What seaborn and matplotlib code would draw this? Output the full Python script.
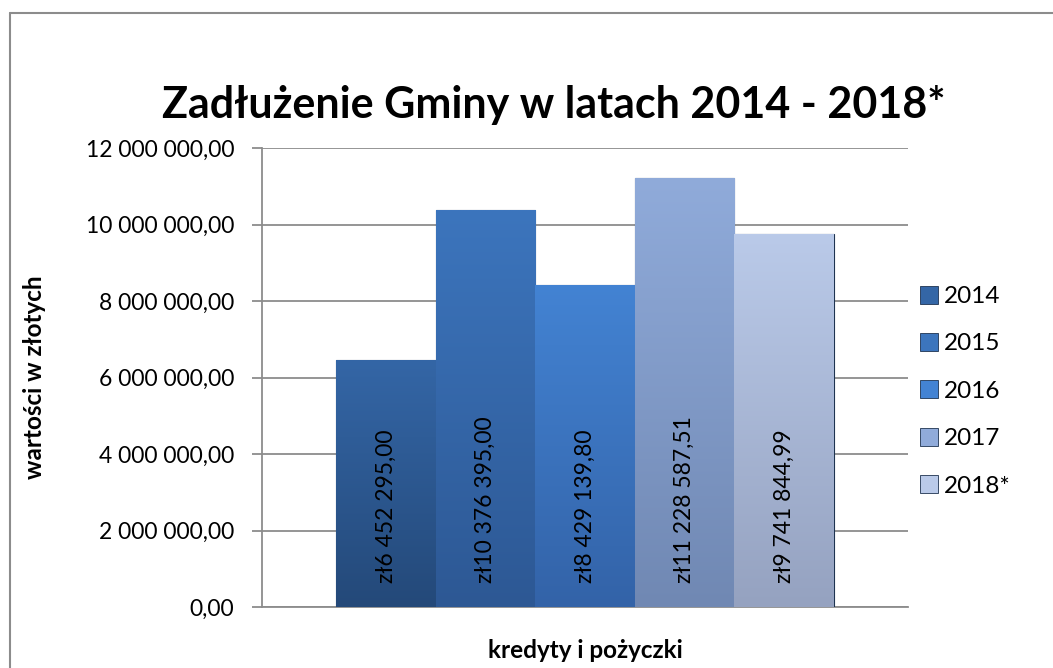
import matplotlib
matplotlib.use("Agg")
import matplotlib.pyplot as plt
import matplotlib.colors as mcolors
from matplotlib.lines import Line2D
from matplotlib.patches import Patch
import numpy as np
import pandas as pd
import seaborn as sns

category = ["kredyty i pożyczki"]
years = ["2014", "2015", "2016", "2017", "2018*"]
values = [6452295.00, 10376395.00, 8429139.80, 11228587.51, 9741844.99]
top_colors = ["#3466A6", "#3C75BD", "#4383D3", "#90ABDA", "#BACAE9"]
bot_colors = ["#244979", "#2D5894", "#3363A8", "#7088B3", "#95A2C0"]
title = "Zadłużenie Gminy w latach 2014 - 2018*"
ylabel = "wartości w złotych"
xlabel = "kredyty i pożyczki"
yticks = [0, 2e6, 4e6, 6e6, 8e6, 10e6, 12e6]

sns.set_theme(style="white")
plt.rcParams["font.family"] = ["Lato", "DejaVu Sans"]
plt.rcParams.update({"text.color": "black", "axes.labelcolor": "black",
                     "xtick.color": "black", "ytick.color": "black"})

df = pd.DataFrame({"kat": category * len(years), "rok": years, "wartosc": values})

fig = plt.figure(figsize=(10.53, 6.68), dpi=100)
W, H = 1053, 668
ax = fig.add_axes([262 / W, 1 - 607 / H, (908 - 262) / W, (607 - 148) / H])

sns.barplot(data=df, x="kat", y="wartosc", hue="rok", palette=top_colors,
            width=0.77, gap=0, ax=ax, legend=False, saturation=1,
            edgecolor="#1E3350", linewidth=0.8, zorder=3)

def fmt_num(v, dec=2):
    s = f"{v:,.{dec}f}"
    return s.replace(",", " ").replace(".", ",")

ax.set_ylim(0, 12e6)
ax.set_xlim(-0.5, 0.5)
ax.set_yticks(yticks)
ax.set_yticklabels([fmt_num(t) for t in yticks], fontsize=16.5, color="black")
ax.set_xticks([])
ax.yaxis.grid(True, color="#8C8C8C", linewidth=1.3, zorder=0)
ax.xaxis.grid(False)
for s in ["top", "right"]:
    ax.spines[s].set_visible(False)
for s in ["left", "bottom"]:
    ax.spines[s].set_color("#8C8C8C")
    ax.spines[s].set_linewidth(1.3)
ax.tick_params(axis="y", which="both", left=True, length=7, width=1.3,
               color="#8C8C8C", labelcolor="black", pad=13)
ax.set_ylabel(ylabel, fontsize=17.5, fontweight="bold", va="center", color="black")
ax.yaxis.set_label_coords((35 - 262) / 646, 0.5)
ax.set_xlabel(xlabel, fontsize=17.5, fontweight="bold", va="center", color="black")
ax.xaxis.set_label_coords(0.5, -(650 - 607) / 459)
fig.text(554 / W, 1 - 118 / H, title, fontsize=31, fontweight="bold",
         ha="center", va="baseline", color="black")

# gradient fill on bars and labels
patches = [p for c in ax.containers for p in c]
for i, p in enumerate(patches):
    x0, y0 = p.get_x(), p.get_y()
    w, h = p.get_width(), p.get_height()
    cmap = mcolors.LinearSegmentedColormap.from_list(
        f"g{i}", [bot_colors[i], top_colors[i]])
    grad = np.linspace(0, 1, 256).reshape(-1, 1)
    im = ax.imshow(grad, extent=[x0, x0 + w, y0, y0 + h], origin="lower",
                   cmap=cmap, aspect="auto", zorder=3.5)
    im.set_clip_path(p)
    ax.annotate("zł" + fmt_num(values[i]), xy=(x0 + w / 2, 0),
                xytext=(0, 24), textcoords="offset pixels",
                rotation=90, ha="center", va="bottom", fontsize=16.5,
                color="black", zorder=5)
ax.set_xlim(-0.5, 0.5)
ax.set_ylim(0, 12e6)

handles = [Patch(facecolor=top_colors[i], edgecolor="#1E3350", linewidth=0.6)
           for i in range(len(years))]
fig.legend(handles, years, loc="upper left", bbox_to_anchor=(910 / W, 1 - 276 / H),
           frameon=False, fontsize=17.5, handlelength=0.75, handleheight=0.75,
           handletextpad=0.25, labelspacing=1.07, borderaxespad=0,
           labelcolor="black")

fig.add_artist(Line2D([10 / W, 10 / W], [0, 1 - 13 / H], color="#8C8C8C", lw=1.5))
fig.add_artist(Line2D([10 / W, 1], [1 - 13 / H, 1 - 13 / H], color="#8C8C8C", lw=1.5))

fig.savefig("out.png", dpi=100, facecolor="white")
